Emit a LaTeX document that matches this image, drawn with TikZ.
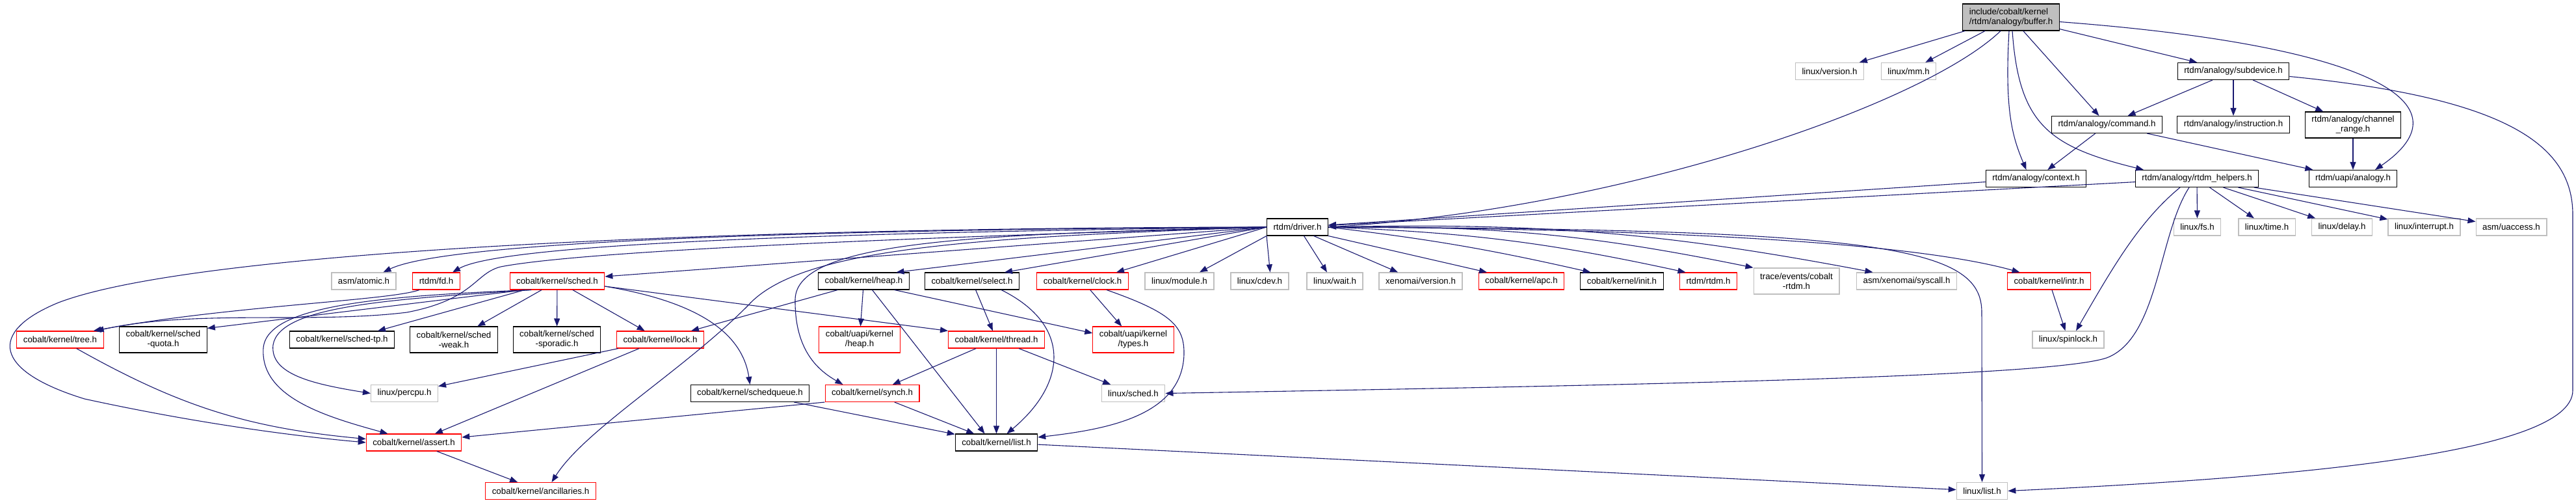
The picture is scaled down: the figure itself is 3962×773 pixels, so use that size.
\documentclass[tikz,border=0pt]{standalone}
\usepackage{fontspec}
\setmainfont{Liberation Sans}
\usetikzlibrary{arrows.meta}
\definecolor{edgeblue}{HTML}{191970}
\definecolor{extgray}{HTML}{BFBFBF}
\definecolor{truncred}{HTML}{FF0000}

\tikzset{
  hdr/.style={rectangle, draw=black, fill=white, line width=1.05pt, inner xsep=10pt, inner ysep=4pt,
    minimum height=26pt, align=center, font=\fontsize{13.3}{15}\selectfont},
  trunc/.style={hdr, draw=truncred},
  ext/.style={hdr, draw=extgray, line width=1.3pt},
  rootbox/.style={hdr, fill=extgray, align=left},
  twoline/.style={minimum height=40pt}
}

\begin{document}
\begin{tikzpicture}[->,>={Triangle[length=12pt,width=9pt]},x=1pt,y=-1pt,line width=1.1pt,
    every edge/.append style={edgeblue}]
      \useasboundingbox (0,0) rectangle (3962,773);

      % top of the graph
      \node[rootbox, minimum height=41pt] (buffer) at (3093,26.5) {include/cobalt/kernel\\/rtdm/analogy/buffer.h};
      \node[ext] (version) at (2814,109.5) {linux/version.h};
      \node[ext] (mm) at (2935.5,109.5) {linux/mm.h};
      \node[hdr] (subdevice) at (3435,109.5) {rtdm/analogy/subdevice.h};
      \node[hdr] (command) at (3240.5,191.5) {rtdm/analogy/command.h};
      \node[hdr] (instruction) at (3435,191.5) {rtdm/analogy/instruction.h};
      \node[hdr, twoline] (chanrange) at (3619,192) {rtdm/analogy/channel\\\_range.h};
      \node[hdr] (context) at (3131.5,274.5) {rtdm/analogy/context.h};
      \node[hdr] (helpers) at (3379,274.5) {rtdm/analogy/rtdm\_helpers.h};
      \node[hdr] (uanalogy) at (3619,274.5) {rtdm/uapi/analogy.h};
      \node[hdr] (driver) at (1995.5,349) {rtdm/driver.h};
      \node[ext] (fs) at (3379.5,349) {linux/fs.h};
      \node[ext] (time) at (3486.5,349) {linux/time.h};
      \node[ext] (delay) at (3602,349) {linux/delay.h};
      \node[ext] (interrupt) at (3728.5,349) {linux/interrupt.h};
      \node[ext] (uaccess) at (3862.5,349) {asm/uaccess.h};

      % includes of driver.h
      \node[ext] (atomic) at (559.5,432) {asm/atomic.h};
      \node[trunc] (fd) at (671,432) {rtdm/fd.h};
      \node[trunc] (sched) at (857,432) {cobalt/kernel/sched.h};
      \node[hdr] (heap) at (1328.5,432) {cobalt/kernel/heap.h};
      \node[hdr] (select) at (1495,432) {cobalt/kernel/select.h};
      \node[trunc] (clock) at (1665,432) {cobalt/kernel/clock.h};
      \node[ext] (module) at (1814,432) {linux/module.h};
      \node[ext] (cdev) at (1937.5,432) {linux/cdev.h};
      \node[ext] (wait) at (2053,432) {linux/wait.h};
      \node[ext] (xnversion) at (2185,432) {xenomai/version.h};
      \node[trunc] (apc) at (2340,432) {cobalt/kernel/apc.h};
      \node[hdr] (init) at (2494.5,432) {cobalt/kernel/init.h};
      \node[trunc] (rtdm) at (2627.5,432) {rtdm/rtdm.h};
      \node[ext, twoline] (trace) at (2763,432) {trace/events/cobalt\\-rtdm.h};
      \node[ext] (syscall) at (2932.5,432) {asm/xenomai/syscall.h};
      \node[trunc] (intr) at (3151.5,432) {cobalt/kernel/intr.h};

      \node[trunc] (tree) at (92.5,522) {cobalt/kernel/tree.h};
      \node[hdr, twoline] (quota) at (251,522) {cobalt/kernel/sched\\-quota.h};
      \node[hdr] (schedtp) at (526,522) {cobalt/kernel/sched-tp.h};
      \node[hdr, twoline] (weak) at (698,522) {cobalt/kernel/sched\\-weak.h};
      \node[hdr, twoline] (sporadic) at (856.5,522) {cobalt/kernel/sched\\-sporadic.h};
      \node[trunc] (lock) at (1015.5,522) {cobalt/kernel/lock.h};
      \node[trunc, twoline] (uheap) at (1322,522) {cobalt/uapi/kernel\\/heap.h};
      \node[trunc] (thread) at (1532.5,522) {cobalt/kernel/thread.h};
      \node[trunc, twoline] (types) at (1743,522) {cobalt/uapi/kernel\\/types.h};
      \node[ext] (spinlock) at (3181,522) {linux/spinlock.h};

      \node[ext] (percpu) at (622,604.5) {linux/percpu.h};
      \node[hdr] (schedqueue) at (1153.5,604.5) {cobalt/kernel/schedqueue.h};
      \node[trunc] (synch) at (1341.5,604.5) {cobalt/kernel/synch.h};
      \node[ext] (lsched) at (1743,604.5) {linux/sched.h};

      \node[trunc] (assert) at (636.5,680) {cobalt/kernel/assert.h};
      \node[hdr] (klist) at (1532.5,680) {cobalt/kernel/list.h};
      \node[trunc] (ancillaries) at (831.5,754.5) {cobalt/kernel/ancillaries.h};
      \node[ext] (llist) at (3048.5,754.5) {linux/list.h};

      % straight includes
      \path (buffer) edge (version)
            (buffer) edge (mm)
            (buffer) edge (command)
            (buffer) edge (subdevice)
            (subdevice) edge (command)
            (subdevice) edge (instruction)
            (subdevice) edge (chanrange)
            (command) edge (context)
            (command) edge (uanalogy)
            (chanrange) edge (uanalogy)
            (context) edge (driver)
            (helpers) edge (driver)
            (helpers) edge (fs)
            (helpers) edge (time)
            (helpers) edge (delay)
            (helpers) edge (interrupt)
            (helpers) edge (uaccess)
            (driver.west) edge ([yshift=7pt]sched.east)
            (driver.west) edge ([xshift=50pt]heap.north)
            (driver.west) edge ([xshift=50pt]select.north)
            (driver.west) edge ([xshift=52pt]clock.north)
            (driver.south west) edge ([xshift=31pt]module.north)
            (driver.south west) edge ([xshift=16pt]cdev.north)
            ([xshift=10pt]driver.south) edge ([xshift=-12pt]wait.north)
            ([xshift=25pt]driver.south) edge ([xshift=-35pt]xnversion.north)
            (driver.south east) edge ([xshift=-53pt]apc.north)
            (driver.east) edge[bend left=3] ([xshift=-48pt]init.north)
            (driver.east) edge[bend left=5] ([xshift=-35pt]rtdm.north)
            (driver.east) edge[bend left=6] (trace.north west)
            (driver.east) edge[bend left=6] ([xshift=-52pt]syscall.north)
            ([xshift=-50pt]sched.south) edge ([yshift=-3pt]quota.north east)
            ([xshift=-50pt]sched.south) edge ([xshift=55pt]schedtp.north)
            (sched) edge (weak)
            (sched) edge (sporadic)
            (sched) edge (lock)
            ([yshift=-8pt]sched.east) edge (thread.north west)
            ([xshift=-40pt]heap.south) edge ([xshift=-20pt]lock.north east)
            (heap) edge (uheap)
            ([xshift=13pt]heap.south) edge ([xshift=-18pt]klist.north)
            ([xshift=47pt]heap.south) edge ([yshift=10pt]types.west)
            (select) edge (thread)
            (clock) edge (types)
            (thread) edge (synch)
            (thread) edge (klist)
            (thread) edge (lsched)
            (synch) edge (klist)
            (synch.south west) edge ([yshift=8pt]assert.east)
            (schedqueue) edge (klist)
            (lock) edge (percpu)
            (lock) edge (assert)
            (tree) edge[bend right=12] (assert)
            (assert) edge (ancillaries)
            (intr) edge (spinlock)
            (klist) edge (llist)
            ;

      % curved includes
      \draw[edgeblue] ([xshift=-16pt]buffer.south) .. controls (2960,160) and (2500,320) .. (driver.east);
      \draw[edgeblue] ([xshift=-3pt]buffer.south) .. controls (3083,170) and (3095,210) .. ([xshift=-15pt]context.north);
      \draw[edgeblue] ([xshift=2pt]buffer.south) .. controls (3105,190) and (3150,225) .. ([xshift=-82pt]helpers.north);
      \draw[edgeblue] ([yshift=-7pt]buffer.east) .. controls (3650,70) and (3800,160) .. ([xshift=34pt]uanalogy.north);
      \draw[edgeblue] ([yshift=-8pt]subdevice.east) .. controls (3850,150) and (3957,220) .. (3957,330)
            -- (3957,600) .. controls (3957,700) and (3500,735) .. (llist.east);
      \draw[edgeblue] ([xshift=-26pt]helpers.south) .. controls (3290,340) and (3250,410) .. ([xshift=12pt]spinlock.north);
      \draw[edgeblue] ([xshift=-12pt]helpers.south) .. controls (3320,360) and (3320,520) .. (3240,550)
            .. controls (3150,580) and (2500,592) .. (lsched.east);
      \draw[edgeblue] (driver.west) .. controls (1400,352) and (700,365) .. ([xshift=30pt]atomic.north);
      \draw[edgeblue] (driver.west) .. controls (1400,356) and (780,370) .. ([xshift=25pt]fd.north);
      \draw[edgeblue] (driver.east) .. controls (2600,352) and (2950,375) .. ([xshift=-45pt]intr.north);
      \draw[edgeblue] (driver.east) .. controls (2900,352) and (3048,380) .. (3048,480) -- (llist.north);
      \draw[edgeblue] (driver.west) .. controls (1500,360) and (1225,370) .. (1223,460)
            .. controls (1222,540) and (1260,570) .. ([xshift=-45pt]synch.north);
      \draw[edgeblue] (driver.west) .. controls (1500,365) and (1230,380) .. (1150,470)
            .. controls (1050,570) and (900,660) .. ([xshift=17pt]ancillaries.north);
      \draw[edgeblue] (driver.west) .. controls (1100,350) and (300,385) .. (90,465)
            .. controls (-20,510) and (-10,570) .. (130,613)
            .. controls (300,650) and (450,670) .. (assert.west);
      \draw[edgeblue] (driver.west) .. controls (1400,365) and (900,385) .. (770,410)
            .. controls (730,420) and (730,460) .. (626,480)
            .. controls (480,498) and (300,475) .. ([xshift=-12pt]tree.north east);
      \draw[edgeblue] ([xshift=-26pt]fd.south) .. controls (600,462) and (350,470) .. ([xshift=-16pt]tree.north east);
      \draw[edgeblue] ([xshift=-40pt]sched.south) .. controls (600,460) and (430,470) .. (420,530)
            .. controls (415,575) and (480,590) .. (percpu.west);
      \draw[edgeblue] ([xshift=-40pt]sched.south) .. controls (580,455) and (410,470) .. (405,535)
            .. controls (400,610) and (500,640) .. ([xshift=-40pt]assert.north);
      \draw[edgeblue] ([yshift=-8pt]sched.east) .. controls (1050,460) and (1140,500) .. (schedqueue.north);
      \draw[edgeblue] ([xshift=45pt]select.south) .. controls (1650,500) and (1640,590) .. ([xshift=16pt]klist.north);
      \draw[edgeblue] ([xshift=37pt]clock.south) .. controls (1800,480) and (1822,500) .. (1821,545)
            .. controls (1818,640) and (1700,660) .. ([yshift=8pt]klist.east);
    \end{tikzpicture}
\end{document}
